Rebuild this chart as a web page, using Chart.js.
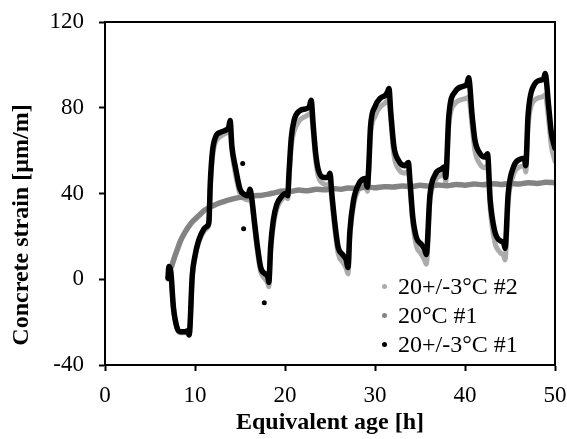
<!DOCTYPE html>
<html>
<head>
<meta charset="utf-8">
<script src="https://cdn.jsdelivr.net/npm/chart.js@4.4.1/dist/chart.umd.min.js"></script>
<style>
  body { margin: 0; background: #fff; }
  #wrap { position: relative; width: 567px; height: 439px; }
  #legend { position: absolute; left: 382px; top: 272px; font-family: 'Liberation Serif', serif; font-size: 24px; line-height: 29px; color: #000; }
  #legend div { white-space: nowrap; }
  #legend .dot { display: inline-block; width: 5px; height: 5px; border-radius: 50%; margin-right: 11px; vertical-align: middle; position: relative; top: -2px; }
</style>
</head>
<body>
<div id="wrap">
  <canvas id="chart_canvas" width="567" height="439"></canvas>
  <div id="legend"></div>
</div>
<script>

// equivalent age [h] for the two cycled specimens
var ageCycled = [7.0, 7.1, 7.3, 7.6, 8.0, 8.4, 8.9, 9.2, 9.35, 9.7,
  10.0, 10.4, 11.0, 11.4, 11.55, 11.7, 11.95, 12.3, 12.8, 13.4,
  13.75, 13.9, 14.1, 14.5, 15.0, 15.5, 15.9, 16.1, 16.3, 16.6,
  16.9, 17.3, 17.8, 18.1, 18.2, 18.4, 18.7, 19.1, 19.6, 20.1,
  20.3, 20.45, 20.7, 21.0, 21.6, 22.3, 22.7, 22.9, 23.15, 23.4,
  23.7, 24.3, 24.8, 25.0, 25.2, 25.6, 25.9, 26.4, 26.8, 27.0,
  27.2, 27.6, 28.2, 28.9, 29.15, 29.3, 29.5, 30.0, 30.6, 31.2,
  31.4, 31.55, 31.75, 32.1, 32.6, 33.3, 33.7, 33.9, 34.2, 34.6,
  35.1, 35.5, 35.7, 36.1, 36.7, 37.4, 37.75, 37.85, 38.2, 38.9,
  39.8, 40.2, 40.4, 40.8, 41.1, 41.7, 42.2, 42.5, 42.8, 43.3,
  43.9, 44.3, 44.45, 44.8, 45.4, 46.1, 46.6, 46.75, 47.0, 47.6,
  48.5, 48.75, 48.9, 49.3, 49.6, 50.0];

// 20+/-3°C #1 (black)
var strainCycled1 = [0.5, 6, 4, -13, -22.5, -24.5, -24.5, -24, -26, 2,
  11, 18, 23.5, 25, 27, 45, 60, 66.5, 68.5, 69.5,
  71, 74, 62, 52, 42, 39.5, 39, 42, 38, 27,
  16.5, 5.5, 2.5, 1, -1.5, 15, 27.5, 35, 38.5, 40,
  39, 50, 66, 74, 78.5, 79.5, 80.5, 83.5, 71, 59,
  51, 47.5, 47.5, 49.5, 40, 24, 15, 11.5, 9, 5.5,
  22, 36.5, 44.5, 47, 43, 52, 71, 80.5, 84.5, 86,
  87.5, 89, 78, 62, 55.5, 53, 54.5, 45, 29, 19.5,
  16.5, 14, 11.5, 39, 49, 51.5, 52.5, 47.5, 76, 87.5,
  90, 91, 94, 76, 65, 58.5, 57, 58.5, 37, 22.5,
  18, 17, 14.5, 40, 52.5, 56, 56.5, 53, 76, 90,
  93, 93.5, 96, 80.5, 68, 61];

// 20+/-3°C #2 (light grey)
var strainCycled2 = [0, 5, 3, -13.5, -23, -25, -25, -24.5, -26, 1,
  10, 17, 22.5, 24, 26, 42, 57, 64, 66.5, 68,
  69, 70, 60, 49, 40, 37.5, 37, 39, 36, 25,
  14, 3.5, 0, -2, -3.5, 12, 25, 33, 37, 38.5,
  37.5, 47, 62, 69, 74, 76, 77, 77.5, 68, 56,
  48, 44.5, 44, 45, 37, 21, 12, 8, 5, 2.5,
  19, 34, 42, 44.5, 41, 49, 67, 76, 80.5, 82.5,
  83.5, 84, 75, 58, 51.5, 49.5, 50.5, 42, 26, 15.5,
  12, 9, 7, 36, 46, 48.5, 49.5, 45, 72, 82,
  84, 84.5, 85, 71, 60, 53.5, 52, 53, 33, 17.5,
  12.5, 11, 9, 36, 49, 52.5, 53, 50, 71, 83,
  85, 85.5, 86, 74, 62, 55];

// 20°C #1 (isothermal, mid grey)
var ageIso = [7.4, 7.7, 8.0, 8.4, 8.9, 9.5, 10.0, 10.5, 11.0, 11.5,
  12.0, 12.5, 13.0, 13.5, 14.3, 15.0, 15.8, 16.6, 17.3, 18.0,
  18.8, 19.8, 20.7, 21.5, 22.5, 23.5, 24.4, 25.3, 26.2, 27.0,
  28.0, 29.0, 30.0, 31.0, 32.0, 33.0, 34.0, 35.0, 36.0, 37.0,
  38.0, 39.0, 40.0, 41.0, 42.0, 43.0, 44.0, 45.0, 46.0, 47.0,
  48.0, 49.0, 50.0];
var strainIso = [6, 10, 13.5, 18, 22, 25.8, 28, 30, 32, 33.3,
  34.3, 35.2, 36, 36.7, 37.6, 38.2, 38.5, 39, 39.1, 39.6,
  40.3, 41.2, 41, 41.6, 41.3, 42, 41.7, 42.3, 42, 42.6,
  42.4, 43, 42.7, 43.2, 43, 43.5, 43.2, 43.8, 43.5, 44,
  43.6, 44.2, 43.9, 44.4, 44.1, 44.6, 44.2, 44.7, 44.4, 45,
  44.7, 45.2, 45];

// a few stray readings of the black series
var ageStray = [15.3, 15.4, 17.7];
var strainStray = [54, 23.5, -11];

var xTicks = [0, 10, 20, 30, 40, 50];
var yTicks = [-40, 0, 40, 80, 120];

var serif = "'Liberation Serif', 'Times New Roman', serif";

function pairs(xs, ys) {
  var out = [];
  for (var i = 0; i < xs.length; i++) {
    out.push({x: xs[i], y: ys[i]});
  }
  return out;
}

function series(label, xs, ys, color, width, order) {
  return {
    label: label,
    data: pairs(xs, ys),
    borderColor: color,
    backgroundColor: color,
    borderWidth: width,
    pointRadius: 0,
    borderJoinStyle: 'round',
    borderCapStyle: 'round',
    cubicInterpolationMode: 'monotone',
    order: order
  };
}

// box round the plot area
var frame = {
  id: 'frame',
  afterDatasetsDraw: function (chart) {
    var a = chart.chartArea, ctx = chart.ctx;
    ctx.save();
    ctx.strokeStyle = '#000';
    ctx.lineWidth = 2;
    ctx.strokeRect(a.left, a.top, a.right - a.left, a.bottom - a.top);
    ctx.restore();
  }
};

// y title sits a bit below the middle of the axis in the original
var yTitle = {
  id: 'yTitle',
  afterDraw: function (chart) {
    var ctx = chart.ctx;
    ctx.save();
    ctx.translate(22, 225);
    ctx.rotate(-Math.PI / 2);
    ctx.font = 'bold 24px ' + serif;
    ctx.fillStyle = '#000';
    ctx.textAlign = 'center';
    ctx.textBaseline = 'middle';
    ctx.fillText('Concrete strain [µm/m]', 0, 0);
    ctx.restore();
  }
};

// legend as html so it can sit inside the plot
var htmlLegend = {
  id: 'htmlLegend',
  afterUpdate: function (chart) {
    var box = document.getElementById('legend');
    box.innerHTML = '';
    chart.data.datasets.forEach(function (ds) {
      if (!ds.label) return;
      var row = document.createElement('div');
      var dot = document.createElement('span');
      dot.className = 'dot';
      dot.style.background = ds.borderColor;
      row.appendChild(dot);
      row.appendChild(document.createTextNode(ds.label));
      box.appendChild(row);
    });
  }
};

var datasets = [
  series('20+/-3°C #2', ageCycled, strainCycled2, '#ababab', 5, 3),
  series('20°C #1', ageIso, strainIso, '#838383', 5.5, 2),
  series('20+/-3°C #1', ageCycled, strainCycled1, '#000000', 5.5, 1),
  {
    data: pairs(ageStray, strainStray),
    showLine: false,
    pointRadius: 2.5,
    pointBorderWidth: 0,
    pointBackgroundColor: '#000',
    order: 0
  }
];

var ticksFont = {family: serif, size: 23};

var chart = new Chart(document.getElementById('chart_canvas'), {
  type: 'line',
  data: {datasets: datasets},
  plugins: [frame, yTitle, htmlLegend],
  options: {
    responsive: false,
    animation: false,
    events: [],
    layout: {padding: {left: 0, right: 12, top: 22, bottom: 0}},
    plugins: {legend: {display: false}, tooltip: {enabled: false}},
    scales: {
      x: {
        type: 'linear',
        min: xTicks[0], max: xTicks[xTicks.length - 1],
        afterBuildTicks: function (s) { s.ticks = xTicks.map(function (v) { return {value: v}; }); },
        // fixed axis band, let the layout padding alone decide the plot edges
        afterFit: function (s) { s.height = 74; s.paddingLeft = 0; s.paddingRight = 0; },
        ticks: {font: ticksFont, color: '#000', padding: 11, maxRotation: 0},
        grid: {drawOnChartArea: false, tickLength: 6, tickColor: '#000', tickWidth: 2},
        border: {color: '#000', width: 2},
        title: {display: true, text: 'Equivalent age [h]', color: '#000',
          font: {family: serif, size: 24, weight: 'bold'}, padding: {top: 0, bottom: 2}}
      },
      y: {
        min: yTicks[0], max: yTicks[yTicks.length - 1],
        afterBuildTicks: function (s) { s.ticks = yTicks.map(function (v) { return {value: v}; }); },
        afterFit: function (s) { s.width = 105; s.paddingTop = 0; s.paddingBottom = 0; },
        ticks: {font: ticksFont, color: '#000', padding: 15},
        grid: {drawOnChartArea: false, tickLength: 6, tickColor: '#000', tickWidth: 2},
        border: {color: '#000', width: 2}
      }
    }
  }
});
</script>
</body>
</html>
